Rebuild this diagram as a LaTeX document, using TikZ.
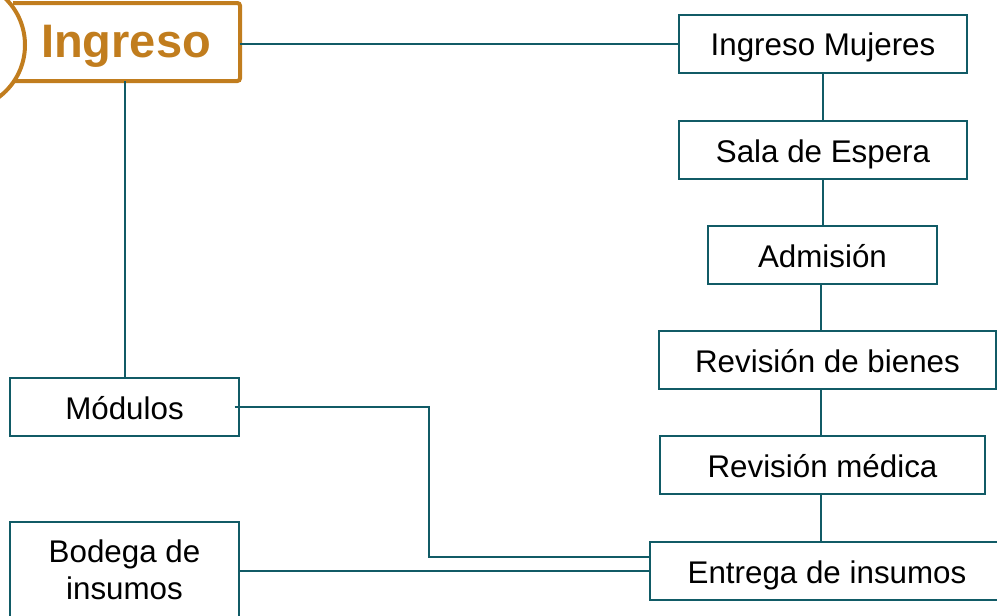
\documentclass[tikz,border=0pt]{standalone}
\usepackage{fontspec}
\setmainfont{Liberation Sans}
\usepackage{xcolor}
\usetikzlibrary{calc,positioning}
\definecolor{tealline}{HTML}{115B66}
\definecolor{ocre}{HTML}{C17D1E}

\begin{document}
\begin{tikzpicture}[
    x=0.75pt, y=-0.75pt,
    every node/.style={font=\fontsize{23.5}{28}\selectfont},
    area/.style={draw=tealline, line width=1.5pt, fill=white,
        inner sep=0pt, minimum height=43.5pt, align=center},
    oneline/.style={area, text height=18.5pt, text depth=0pt},
    link/.style={draw=tealline, line width=1.5pt}
]
\useasboundingbox (0,0) rectangle (997,615);

% Main entrance block
\begin{scope}
    \clip (0,0) rectangle (997,615);
    \draw[ocre, line width=3pt] (-40,45) circle (65);
\end{scope}
\draw[ocre, line width=3pt, rounded corners=2pt]
    (13,3) -- (240,3) -- (240,81) -- (15,81);
\node[ocre, font=\fontsize{35.25}{40}\bfseries,
    minimum width=170pt, minimum height=58.5pt] (ing) at (126,46) {Ingreso};

% Right column
\node[oneline, minimum width=216pt] (im) at (823,43.5) {Ingreso Mujeres};
\node[oneline, minimum width=216pt] (sala) at (823,150) {Sala de Espera};
\node[oneline, minimum width=171.75pt] (adm) at (822.5,255) {Admisión};
\node[oneline, minimum width=252.75pt] (bien) at (827.5,360) {Revisión de bienes};
\node[oneline, minimum width=243.75pt] (med) at (822.5,465) {Revisión médica};
\node[oneline, minimum width=265.5pt] (ent) at (827,571) {Entrega de insumos};

% Left column
\node[oneline, minimum width=171.75pt] (mod) at (124.5,407) {Módulos};
\node[area, minimum width=171.75pt, minimum height=72pt,
    font=\fontsize{23.5}{27.75}\selectfont] (bod) at (124.5,570) {Bodega de\\insumos};

% Connectors
\draw[link] (ing.east |- im.west) -- (im.west);
\draw[link] (mod.north |- 0,81) -- (mod.north);
\draw[link] (im.south) -- (sala.north);
\draw[link] (sala.south) -- (sala.south |- adm.north);
\draw[link] ([xshift=-1.5pt]adm.south) -- ([xshift=-1.5pt]adm.south |- bien.north);
\draw[link] ([xshift=-1.5pt]adm.south |- bien.south) -- ([xshift=-1.5pt]adm.south |- med.north);
\draw[link] ([xshift=-1.5pt]adm.south |- med.south) -- ([xshift=-1.5pt]adm.south |- ent.north);

\coordinate (bend) at (429,557);
\draw[link] ([xshift=-4pt]mod.east) -| (bend) -- (bend -| ent.west);
\draw[link] (bod.east |- ent.west) -- (ent.west);

\end{tikzpicture}
\end{document}
